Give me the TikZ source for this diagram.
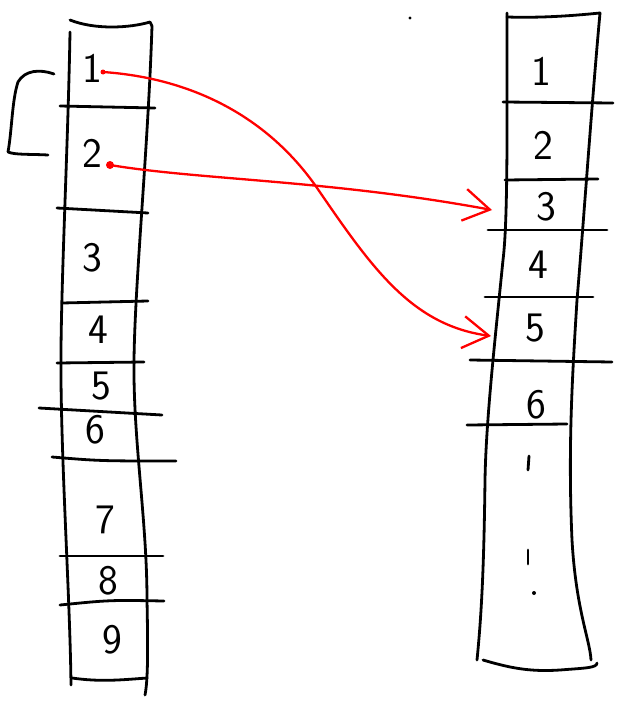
\documentclass[tikz,border=0pt]{standalone}
\usetikzlibrary{arrows.meta}
\begin{document}
\begin{tikzpicture}[x=1pt,y=-1pt,
  pen/.style={line width=2.8pt,line cap=round,line join=round,black},
  redpen/.style={line width=2.3pt,line cap=round,red},
  num/.style={font=\fontsize{42}{42}\selectfont\sffamily,inner sep=0pt},
  tip/.style={-{Straight Barb[length=26pt,width=32pt,line width=2.3pt]}}]
\useasboundingbox (0,0) rectangle (621,709);
% ---------- left column ----------
\draw[pen] (70,20) .. controls (95,30) and (130,28) .. (150,22) -- (152,26);
\draw[pen] (70,32) .. controls (68,150) and (60,300) .. (61,380) .. controls (62,480) and (70,600) .. (71,685);
\draw[pen] (152,26) .. controls (148,150) and (135,280) .. (134,360) .. controls (133,440) and (147,520) .. (147,600) .. controls (148,650) and (148,680) .. (145,695);
\draw[pen] (60,106) -- (155,108);
\draw[pen] (57,208) -- (148,213);
\draw[pen] (62,303) -- (148,301);
\draw[pen] (57,363) -- (144,362);
\draw[pen] (39,408) -- (162,415);
\draw[pen] (52,457) .. controls (100,461) .. (176,461);
\draw[pen] (60,556) -- (163,556);
\draw[pen] (60,605) .. controls (110,600) .. (164,601);
\draw[pen] (72,678) .. controls (100,682) and (120,680) .. (147,678);
% bracket
\draw[pen] (54,74) .. controls (40,69) and (25,70) .. (18,82) .. controls (12,100) and (12,130) .. (8,152) .. controls (15,155) and (30,154) .. (48,155);
% numbers left
\node[num] (l1) at (92,68) {1};
\node[num] (l2) at (92,153) {2};
\node[num] (l3) at (92,258) {3};
\node[num] (l4) at (98,330) {4};
\node[num] (l5) at (101,386) {5};
\node[num] (l6) at (95,430) {6};
\node[num] (l7) at (105,520) {7};
\node[num] (l8) at (108,581) {8};
\node[num] (l9) at (112,640) {9};
% ---------- right column ----------
\draw[pen] (507,17) .. controls (540,18) and (570,16) .. (600,13);
\draw[pen] (507,13) .. controls (507,120) and (508,220) .. (503,260) .. controls (495,340) and (486,420) .. (485,480) .. controls (484,560) and (482,610) .. (477,660);
\draw[pen] (600,13) .. controls (592,100) and (583,230) .. (577,300) .. controls (572,380) and (568,450) .. (572,540) .. controls (576,610) and (590,640) .. (591,660);
\draw[pen] (483,660) .. controls (510,668) and (530,672) .. (560,670) .. controls (585,668) and (597,668) .. (597,663);
\draw[pen] (503,102) -- (613,103);
\draw[pen] (505,180) -- (598,179);
\draw[pen] (488,230) -- (607,230);
\draw[pen] (485,297) -- (593,297);
\draw[pen] (470,360) -- (612,362);
\draw[pen] (467,425) -- (567,424);
% numbers right
\node[num] (r1) at (541,71) {1};
\node[num] (r2) at (543,145) {2};
\node[num] (r3) at (546,207) {3};
\node[num] (r4) at (538,265) {4};
\node[num] (r5) at (535,328) {5};
\node[num] (r6) at (536,405) {6};
\draw[pen] (529,456) -- (528,470);
\draw[pen] (528,550) -- (528,564);
\fill (534,593) circle (2pt);
% stray dot
\fill (410,18) circle (1.6pt);
% ---------- red arrows ----------
\coordinate (s1) at (103,72);
\coordinate (e1) at (491,336);
\coordinate (s2) at (110,165);
\coordinate (e2) at (492,210);
\fill[red] (s1) circle (2.5pt);
\fill[red] (s2) circle (4pt);
\draw[redpen,tip] (s1) .. controls (190,78) and (265,115) .. (315,185) .. controls (370,265) and (410,325) .. (e1);
\draw[redpen,tip] (s2) .. controls (200,180) and (330,180) .. (e2);
\end{tikzpicture}
\end{document}
